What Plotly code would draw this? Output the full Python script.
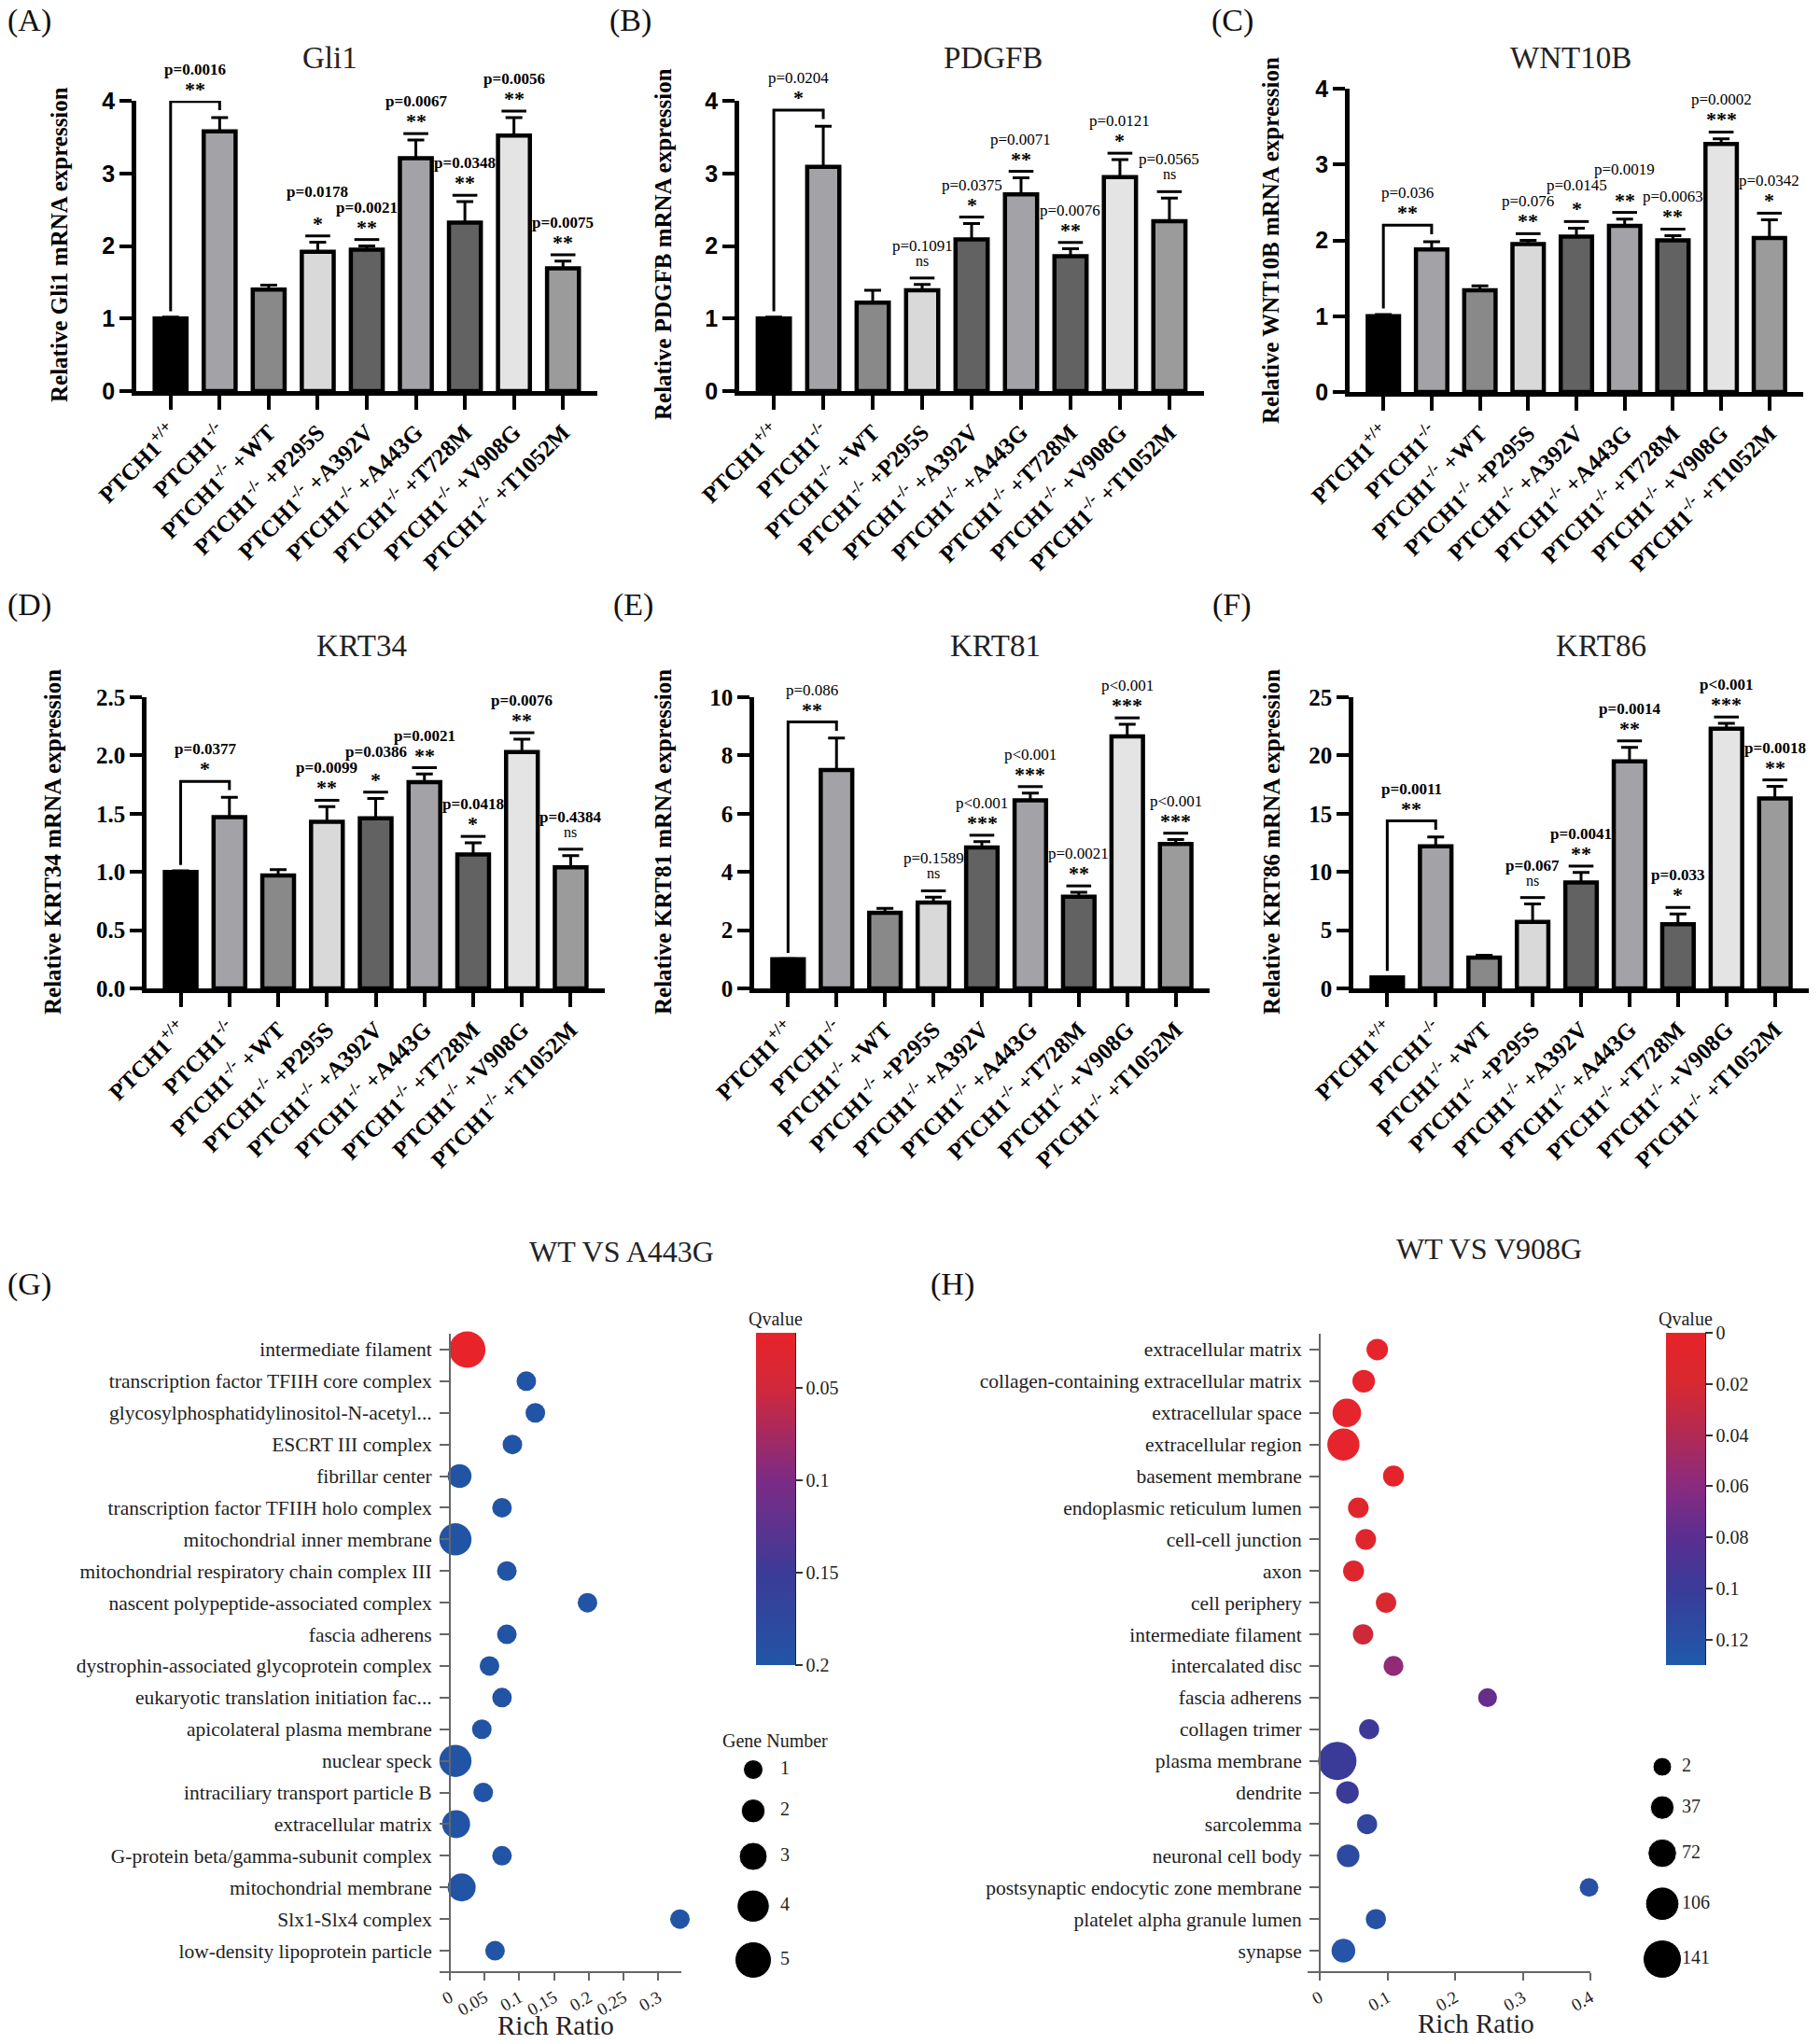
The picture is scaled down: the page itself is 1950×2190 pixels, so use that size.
import plotly.graph_objects as go

W, H = 1950, 2190
SERIF = "Liberation Serif"
SANS = "Liberation Sans"

# ---------------- data ----------------
groups = ["PTCH1<sup>+/+</sup>", "PTCH1<sup>-/-</sup>", "PTCH1<sup>-/-</sup> +WT",
          "PTCH1<sup>-/-</sup> +P295S", "PTCH1<sup>-/-</sup> +A392V", "PTCH1<sup>-/-</sup> +A443G",
          "PTCH1<sup>-/-</sup> +T728M", "PTCH1<sup>-/-</sup> +V908G", "PTCH1<sup>-/-</sup> +T1052M"]
bar_colors = ["#000000", "#a3a3a7", "#898989", "#d9d9d9", "#626262", "#a3a3a7", "#626262", "#e4e4e4", "#9b9b9b"]

gli1_mean = [1.00, 3.58, 1.40, 1.92, 1.95, 3.21, 2.32, 3.52, 1.69]
gli1_err = [0.02, 0.19, 0.06, 0.13, 0.05, 0.25, 0.29, 0.25, 0.10]
gli1_p = ["", "p=0.0016", "", "p=0.0178", "p=0.0021", "p=0.0067", "p=0.0348", "p=0.0056", "p=0.0075"]
gli1_sig = ["", "**", "", "*", "**", "**", "**", "**", "**"]

pdgfb_mean = [1.00, 3.09, 1.22, 1.39, 2.09, 2.71, 1.86, 2.95, 2.34]
pdgfb_err = [0.02, 0.56, 0.17, 0.08, 0.22, 0.23, 0.10, 0.24, 0.32]
pdgfb_p = ["", "p=0.0204", "", "p=0.1091", "p=0.0375", "p=0.0071", "p=0.0076", "p=0.0121", "p=0.0565"]
pdgfb_sig = ["", "*", "", "ns", "*", "**", "**", "*", "ns"]

wnt10b_mean = [1.00, 1.88, 1.34, 1.95, 2.05, 2.19, 2.00, 3.27, 2.03]
wnt10b_err = [0.02, 0.10, 0.06, 0.05, 0.11, 0.09, 0.06, 0.07, 0.24]
wnt10b_p = ["", "p=0.036", "", "p=0.076", "p=0.0145", "p=0.0019", "p=0.0063", "p=0.0002", "p=0.0342"]
wnt10b_sig = ["", "**", "", "**", "*", "**", "**", "***", "*"]

krt34_mean = [1.00, 1.47, 0.97, 1.43, 1.46, 1.77, 1.15, 2.03, 1.04]
krt34_err = [0.01, 0.17, 0.05, 0.13, 0.17, 0.07, 0.10, 0.11, 0.10]
krt34_p = ["", "p=0.0377", "", "p=0.0099", "p=0.0386", "p=0.0021", "p=0.0418", "p=0.0076", "p=0.4384"]
krt34_sig = ["", "*", "", "**", "*", "**", "*", "**", "ns"]

krt81_mean = [1.00, 7.50, 2.60, 2.95, 4.84, 6.46, 3.15, 8.65, 4.96]
krt81_err = [0.02, 1.10, 0.15, 0.18, 0.20, 0.25, 0.15, 0.42, 0.15]
krt81_p = ["", "p=0.086", "", "p=0.1589", "p<0.001", "p<0.001", "p=0.0021", "p<0.001", "p<0.001"]
krt81_sig = ["", "**", "", "ns", "***", "***", "**", "***", "***"]

krt86_mean = [0.95, 12.2, 2.65, 5.7, 9.1, 19.5, 5.5, 22.3, 16.3]
krt86_err = [0.05, 0.8, 0.2, 1.55, 0.85, 1.2, 0.9, 0.45, 1.05]
krt86_p = ["", "p=0.0011", "", "p=0.067", "p=0.0041", "p=0.0014", "p=0.033", "p<0.001", "p=0.0018"]
krt86_sig = ["", "**", "", "ns", "**", "**", "*", "***", "**"]

g_terms = ["intermediate filament", "transcription factor TFIIH core complex",
           "glycosylphosphatidylinositol-N-acetyl...", "ESCRT III complex", "fibrillar center",
           "transcription factor TFIIH holo complex", "mitochondrial inner membrane",
           "mitochondrial respiratory chain complex III", "nascent polypeptide-associated complex",
           "fascia adherens", "dystrophin-associated glycoprotein complex",
           "eukaryotic translation initiation fac...", "apicolateral plasma membrane", "nuclear speck",
           "intraciliary transport particle B", "extracellular matrix",
           "G-protein beta/gamma-subunit complex", "mitochondrial membrane", "Slx1-Slx4 complex",
           "low-density lipoprotein particle"]
g_rich = [0.025, 0.110, 0.123, 0.090, 0.014, 0.075, 0.008, 0.082, 0.198, 0.082,
          0.057, 0.075, 0.046, 0.008, 0.048, 0.009, 0.075, 0.017, 0.331, 0.065]
g_genes = [5, 1, 1, 1, 2, 1, 4, 1, 1, 1, 1, 1, 1, 4, 1, 3, 1, 3, 1, 1]
g_q = [0.02] + [0.198] * 19
g_legend_vals = [1, 2, 3, 4, 5]
g_cbar_ticks = [0.05, 0.1, 0.15, 0.2]

h_terms = ["extracellular matrix", "collagen-containing extracellular matrix", "extracellular space",
           "extracellular region", "basement membrane", "endoplasmic reticulum lumen",
           "cell-cell junction", "axon", "cell periphery", "intermediate filament",
           "intercalated disc", "fascia adherens", "collagen trimer", "plasma membrane", "dendrite",
           "sarcolemma", "neuronal cell body", "postsynaptic endocytic zone membrane",
           "platelet alpha granule lumen", "synapse"]
h_rich = [0.085, 0.065, 0.040, 0.035, 0.109, 0.057, 0.068, 0.050, 0.098, 0.064,
          0.109, 0.248, 0.073, 0.026, 0.041, 0.070, 0.042, 0.398, 0.083, 0.035]
h_genes = [22, 30, 72, 98, 18, 16, 16, 18, 14, 14, 10, 4, 12, 141, 30, 12, 30, 2, 12, 38]
h_q = [0.003, 0.004, 0.004, 0.004, 0.005, 0.010, 0.010, 0.010, 0.018, 0.025,
       0.056, 0.075, 0.098, 0.100, 0.100, 0.110, 0.115, 0.120, 0.120, 0.125]
h_legend_vals = [2, 37, 72, 106, 141]
h_cbar_ticks = [0, 0.02, 0.04, 0.06, 0.08, 0.1, 0.12]


# ---------------- helpers ----------------
def xp(px):
    return px / W


def yp(py):
    return 1 - py / H


fig = go.Figure()
layout = dict(width=W, height=H, margin=dict(l=0, r=0, t=0, b=0, pad=0, autoexpand=False),
              paper_bgcolor="white", plot_bgcolor="rgba(0,0,0,0)", showlegend=False)
annotations = []
shapes = []


def axname(k, a):
    return a if k == 1 else f"{a}{k}"


def ref(k, a):
    return a if k == 1 else f"{a}{k}"


bar_panels = [
    dict(k=1, title="Gli1", lab="(A)", mean=gli1_mean, err=gli1_err, p=gli1_p, sig=gli1_sig,
         ymax=4, dtick=1, fmt="d", tfam=SANS, pbold=True, x0=146, x1=640, yb=419, yt=108,
         ytitle="Relative Gli1 mRNA expression", ytx=63, yty=262, labxy=(31, 22), txy=(353, 62)),
    dict(k=2, title="PDGFB", lab="(B)", mean=pdgfb_mean, err=pdgfb_err, p=pdgfb_p, sig=pdgfb_sig,
         ymax=4, dtick=1, fmt="d", tfam=SANS, pbold=False, x0=792, x1=1290, yb=419, yt=108,
         ytitle="Relative PDGFB mRNA expression", ytx=710, yty=262, labxy=(675, 22), txy=(1064, 62)),
    dict(k=3, title="WNT10B", lab="(C)", mean=wnt10b_mean, err=wnt10b_err, p=wnt10b_p, sig=wnt10b_sig,
         ymax=4, dtick=1, fmt="d", tfam=SANS, pbold=False, x0=1446, x1=1932, yb=420, yt=95,
         ytitle="Relative WNT10B mRNA expression", ytx=1362, yty=258, labxy=(1320, 22), txy=(1683, 62)),
    dict(k=4, title="KRT34", lab="(D)", mean=krt34_mean, err=krt34_err, p=krt34_p, sig=krt34_sig,
         ymax=2.5, dtick=0.5, fmt=".1f", tfam=SERIF, pbold=True, x0=157, x1=648, yb=1059, yt=747,
         ytitle="Relative KRT34 mRNA expression", ytx=56, yty=902, labxy=(31, 648), txy=(387, 692)),
    dict(k=5, title="KRT81", lab="(E)", mean=krt81_mean, err=krt81_err, p=krt81_p, sig=krt81_sig,
         ymax=10, dtick=2, fmt="d", tfam=SERIF, pbold=False, x0=808, x1=1296, yb=1059, yt=747,
         ytitle="Relative KRT81 mRNA expression", ytx=710, yty=902, labxy=(678, 648), txy=(1066, 692)),
    dict(k=6, title="KRT86", lab="(F)", mean=krt86_mean, err=krt86_err, p=krt86_p, sig=krt86_sig,
         ymax=25, dtick=5, fmt="d", tfam=SERIF, pbold=True, x0=1450, x1=1938, yb=1059, yt=747,
         ytitle="Relative KRT86 mRNA expression", ytx=1362, yty=902, labxy=(1320, 648), txy=(1715, 692)),
]

P_SHIFT = 23     # px from anchor to bottom of p-value text
P_MIN_SEP = 17   # minimal vertical separation (px) between neighbouring p-value labels

for P in bar_panels:
    k = P["k"]
    xr, yr = ref(k, "x"), ref(k, "y")
    n = len(groups)
    xs = list(range(n))
    ymax = P["ymax"]
    ppu = (P["yb"] - P["yt"]) / ymax
    tops = [m + e for m, e in zip(P["mean"], P["err"])]
    fig.add_trace(go.Bar(
        x=xs, y=P["mean"], width=0.65, xaxis=xr, yaxis=yr,
        marker=dict(color=bar_colors, line=dict(color="black", width=4.5)),
        error_y=dict(type="data", symmetric=False, array=P["err"], arrayminus=[0] * n,
                     color="black", thickness=3, width=9),
        hoverinfo="skip"))
    gap = 0.022 * ymax
    mark_x = [i for i in xs if i >= 3]
    mark_y = [tops[i] + gap for i in mark_x]
    fig.add_trace(go.Scatter(
        x=mark_x, y=mark_y, mode="markers", xaxis=xr, yaxis=yr, cliponaxis=False,
        marker=dict(symbol="line-ew", size=19, line=dict(color="black", width=3)),
        hoverinfo="skip"))
    bk = tops[1] + 0.055 * ymax
    fig.add_trace(go.Scatter(
        x=[0, 0, 1, 1], y=[tops[0] + 0.02 * ymax, bk, bk, tops[1] + 0.025 * ymax],
        mode="lines", xaxis=xr, yaxis=yr, cliponaxis=False,
        line=dict(color="black", width=3), hoverinfo="skip"))
    pfont = dict(family=SERIF, size=17, color="black", weight="bold" if P["pbold"] else "normal")
    extra = [0.0] * len(mark_x)
    for _ in range(2):
        for j in range(len(mark_x) - 1):
            la = mark_y[j] * ppu + extra[j]
            lb = mark_y[j + 1] * ppu + extra[j + 1]
            if abs(la - lb) < P_MIN_SEP:
                if la >= lb:
                    extra[j] += P_MIN_SEP - (la - lb)
                else:
                    extra[j + 1] += P_MIN_SEP - (lb - la)
    spots = [(0.5, bk, 1, 0.0)] + [(i, mark_y[j], i, extra[j]) for j, i in enumerate(mark_x)]
    for xv, yv, idx, ex in spots:
        s = P["sig"][idx]
        if s == "ns":
            annotations.append(dict(x=xv, y=yv, xref=xr, yref=yr, text="ns", showarrow=False,
                                    yanchor="bottom", yshift=8,
                                    font=dict(family=SERIF, size=16, color="black")))
        else:
            annotations.append(dict(x=xv, y=yv, xref=xr, yref=yr, text=s, showarrow=False,
                                    yanchor="bottom", yshift=-1,
                                    font=dict(family=SERIF, size=22, color="black", weight="bold")))
        annotations.append(dict(x=xv, y=yv, xref=xr, yref=yr, text=P["p"][idx], showarrow=False,
                                yanchor="bottom", yshift=P_SHIFT + ex, font=pfont))
    layout[axname(k, "xaxis")] = dict(
        domain=[xp(P["x0"]), xp(P["x1"])], anchor=yr, range=[-0.7, 8.7],
        tickvals=xs, ticktext=groups, tickangle=-45, ticks="outside", ticklen=15, tickwidth=4,
        tickcolor="black", showline=True, linewidth=4.5, linecolor="black", showgrid=False,
        zeroline=False, automargin=False,
        tickfont=dict(family=SERIF, size=25, color="black", weight="bold"))
    tv = [round(i * P["dtick"], 2) for i in range(int(round(ymax / P["dtick"])) + 1)]
    tt = [format(v, P["fmt"]) if P["fmt"] == ".1f" else str(int(v)) for v in tv]
    layout[axname(k, "yaxis")] = dict(
        domain=[yp(P["yb"]), yp(P["yt"])], anchor=xr, range=[0, ymax], tickvals=tv, ticktext=tt,
        ticks="outside", ticklen=13, tickwidth=4, tickcolor="black", showline=True, linewidth=4.5,
        linecolor="black", showgrid=False, zeroline=False, automargin=False,
        tickfont=dict(family=P["tfam"], size=25, color="black", weight="bold"))
    annotations.append(dict(x=xp(P["ytx"]), y=yp(P["yty"]), xref="paper", yref="paper",
                            text=P["ytitle"], textangle=-90, showarrow=False,
                            xanchor="center", yanchor="middle",
                            font=dict(family=SERIF, size=25, color="black", weight="bold")))
    annotations.append(dict(x=xp(P["txy"][0]), y=yp(P["txy"][1]), xref="paper", yref="paper",
                            text=P["title"], showarrow=False, xanchor="center", yanchor="middle",
                            font=dict(family=SERIF, size=33, color="#222")))
    annotations.append(dict(x=xp(P["labxy"][0]), y=yp(P["labxy"][1]), xref="paper", yref="paper",
                            text=P["lab"], showarrow=False, xanchor="center", yanchor="middle",
                            font=dict(family=SERIF, size=34, color="#111")))

# ---------------- bubble plots ----------------
G_SCALE = [[0.0, "#2155a6"], [0.278, "#3c3b97"], [0.556, "#7c2b86"], [0.833, "#d1283a"], [1.0, "#e8232a"]]
H_SCALE = [[0.0, "#1f5aab"], [0.23, "#3a3b98"], [0.385, "#5b2e90"], [0.54, "#8a2b7f"],
           [0.69, "#b02a55"], [0.85, "#d8282f"], [1.0, "#e8232a"]]


def g_size(n):
    return 16.5 + 4.5 * n


def h_size(n):
    return 19.7 + 0.151 * n


bubble_panels = [
    dict(k=7, terms=g_terms, rich=g_rich, genes=g_genes, q=g_q, size=g_size, scale=G_SCALE,
         qmin=0.02, qmax=0.2, cticks=g_cbar_ticks, xl=471, x0=482, x1=730, xmax=0.333,
         xticks=[0, 0.05, 0.1, 0.15, 0.2, 0.25, 0.3], cbx=810, title="WT VS A443G", txy=(666, 1341),
         lab="(G)", labxy=(31, 1376), rrxy=(595, 2170)),
    dict(k=8, terms=h_terms, rich=h_rich, genes=h_genes, q=h_q, size=h_size, scale=H_SCALE,
         qmin=0.0, qmax=0.13, cticks=h_cbar_ticks, xl=1401, x0=1414, x1=1704, xmax=0.4,
         xticks=[0, 0.1, 0.2, 0.3, 0.4], cbx=1785, title="WT VS V908G", txy=(1595, 1338),
         lab="(H)", labxy=(1020, 1376), rrxy=(1581, 2168)),
]
YTOP, YBOT = 1429, 2112
for B in bubble_panels:
    k = B["k"]
    xr, yr = ref(k, "x"), ref(k, "y")
    nterm = len(B["terms"])
    ys = list(range(nterm))
    cb_top, cb_bot = 1428, 1784
    fig.add_trace(go.Scatter(
        x=B["rich"], y=ys, mode="markers", xaxis=xr, yaxis=yr, cliponaxis=False,
        marker=dict(size=[B["size"](g) for g in B["genes"]], color=[-q for q in B["q"]],
                    colorscale=B["scale"], cmin=-B["qmax"], cmax=-B["qmin"], line=dict(width=0),
                    opacity=1, showscale=True,
                    colorbar=dict(x=xp(B["cbx"]), xanchor="left", y=yp((cb_top + cb_bot) / 2),
                                  yanchor="middle", len=cb_bot - cb_top, lenmode="pixels",
                                  thickness=42, thicknessmode="pixels", outlinewidth=0,
                                  xpad=0, ypad=0, ticks="outside", ticklen=8, tickwidth=2,
                                  tickcolor="#333", tickvals=[-t for t in B["cticks"]],
                                  ticktext=[f"{t:g}" for t in B["cticks"]],
                                  tickfont=dict(family=SERIF, size=20, color="#222"))),
        hoverinfo="skip"))
    shapes.append(dict(type="line", xref="paper", yref="paper", x0=xp(B["cbx"] + 42),
                       x1=xp(B["cbx"] + 42), y0=yp(cb_top), y1=yp(cb_bot),
                       line=dict(color="#222", width=2)))
    annotations.append(dict(x=xp(B["cbx"] + 21), y=yp(cb_top - 2), xref="paper", yref="paper",
                            text="Qvalue", showarrow=False, xanchor="center", yanchor="bottom",
                            font=dict(family=SERIF, size=20, color="#222")))
    xl_val = -B["xmax"] * (B["x0"] - B["xl"]) / (B["x1"] - B["x0"])
    layout[axname(k, "xaxis")] = dict(
        domain=[xp(B["xl"]), xp(B["x1"])], anchor=yr, range=[xl_val, B["xmax"]],
        tickvals=B["xticks"], ticktext=[f"{t:g}" for t in B["xticks"]], tickangle=-30,
        ticks="outside", ticklen=8, tickwidth=2, tickcolor="#666", showline=True, linewidth=2,
        linecolor="#666", showgrid=False, zeroline=False, automargin=False,
        tickfont=dict(family=SERIF, size=19, color="#222"))
    layout[axname(k, "yaxis")] = dict(
        domain=[yp(YBOT), yp(YTOP)], anchor="free", position=xp(B["x0"]),
        range=[(YBOT - YTOP) / 33.9 - 0.5, -0.5], tickvals=ys, ticktext=B["terms"],
        ticks="outside", ticklen=10, tickwidth=2, tickcolor="#666", showline=True, linewidth=2,
        linecolor="#666", showgrid=False, zeroline=False, ticklabelstandoff=4, automargin=False,
        tickfont=dict(family=SERIF, size=21.5, color="#222"))
    annotations.append(dict(x=xp(B["txy"][0]), y=yp(B["txy"][1]), xref="paper", yref="paper",
                            text=B["title"], showarrow=False, xanchor="center", yanchor="middle",
                            font=dict(family=SERIF, size=32, color="#222")))
    annotations.append(dict(x=xp(B["labxy"][0]), y=yp(B["labxy"][1]), xref="paper", yref="paper",
                            text=B["lab"], showarrow=False, xanchor="center", yanchor="middle",
                            font=dict(family=SERIF, size=34, color="#111")))
    annotations.append(dict(x=xp(B["rrxy"][0]), y=yp(B["rrxy"][1]), xref="paper", yref="paper",
                            text="Rich Ratio", showarrow=False, xanchor="center", yanchor="middle",
                            font=dict(family=SERIF, size=29, color="#222")))

# ---------------- size legends (pixel-unit overlay axis) ----------------
legend_specs = [
    dict(vals=g_legend_vals, size=g_size, cx=807, lx=836, y0=1896),
    dict(vals=h_legend_vals, size=h_size, cx=1781, lx=1802, y0=1893),
]
for L in legend_specs:
    ds = [L["size"](v) for v in L["vals"]]
    cy = [L["y0"]]
    for i in range(1, len(ds)):
        cy.append(cy[-1] + (ds[i - 1] + ds[i]) / 2 + 21)
    fig.add_trace(go.Scatter(x=[L["cx"]] * len(ds), y=cy, mode="markers", xaxis="x9", yaxis="y9",
                             marker=dict(size=ds, color="black", opacity=1), hoverinfo="skip"))
    fig.add_trace(go.Scatter(x=[L["lx"]] * len(ds), y=cy, mode="text", xaxis="x9", yaxis="y9",
                             text=[str(v) for v in L["vals"]], textposition="middle right",
                             textfont=dict(family=SERIF, size=20, color="#222"), hoverinfo="skip"))
annotations.append(dict(x=xp(830), y=yp(1865), xref="paper", yref="paper", text="Gene Number",
                        showarrow=False, xanchor="center", yanchor="middle",
                        font=dict(family=SERIF, size=20, color="#222")))
layout["xaxis9"] = dict(domain=[0, 1], range=[0, W], visible=False, anchor="y9")
layout["yaxis9"] = dict(domain=[0, 1], range=[H, 0], visible=False, anchor="x9")

layout["annotations"] = annotations
layout["shapes"] = shapes
fig.update_layout(**layout)
fig.write_html("out.html", config={"displayModeBar": False},
               post_script="document.body.style.margin='0px';document.body.style.overflow='hidden';")
